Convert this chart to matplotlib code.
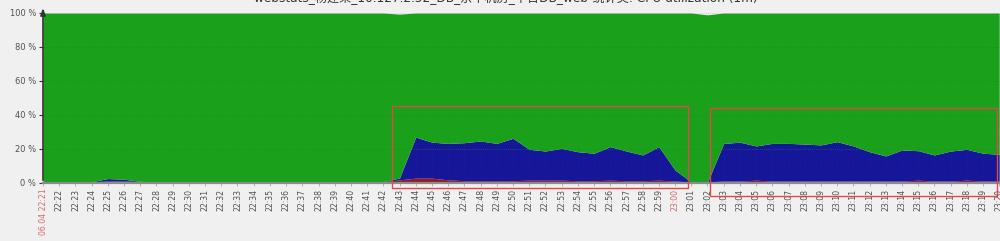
import matplotlib

matplotlib.use("Agg")
import matplotlib.pyplot as plt
from matplotlib.patches import Rectangle

plt.rcParams["font.family"] = ["DejaVu Sans", "Noto Sans CJK SC"]

# ---- data: one value per minute, 22:21 .. 23:20 -------------------------------
TIME_LABELS = ["06.04 22:21"] + [f"22:{m:02d}" for m in range(22, 60)] + [f"23:{m:02d}" for m in range(0, 21)]
TOTAL_BUSY = [0.5, 0.5, 0.5, 0.8, 2.6, 2.2, 1.0, 0.5, 0.5, 0.6,
              0.5, 0.5, 0.5, 0.5, 0.5, 0.5, 0.5, 0.5, 0.5, 0.5,
              0.5, 0.8, 3.0, 27.0, 24.0, 23.3, 23.7, 24.7, 23.3, 26.3,
              19.8, 18.8, 20.4, 18.4, 17.5, 21.4, 18.8, 16.5, 21.4, 7.6,
              0.6, 0.5, 23.3, 24.0, 21.8, 23.3, 23.3, 22.9, 22.4, 24.3,
              21.8, 18.4, 15.9, 19.4, 19.0, 16.5, 18.8, 19.8, 17.5, 16.9]
SYSTEM = [0.3, 0.3, 0.3, 0.4, 0.8, 0.8, 0.5, 0.3, 0.3, 0.6,
          0.6, 0.6, 0.6, 0.6, 0.6, 0.3, 0.3, 0.3, 0.3, 0.3,
          0.3, 0.4, 1.5, 2.5, 2.5, 1.5, 1.0, 1.0, 1.0, 1.0,
          1.3, 1.3, 1.3, 1.0, 1.0, 1.3, 1.0, 1.0, 1.3, 0.8,
          0.3, 0.3, 0.8, 0.8, 1.3, 0.8, 0.8, 0.8, 0.8, 0.8,
          0.8, 0.8, 0.8, 0.8, 1.3, 0.8, 0.8, 1.3, 0.8, 0.8]
OTHER = [0.35] * 60
IDLE_TOP = [100.0] * 22 + [99.3] + [100.0] * 18 + [98.9] + [100.0] * 18
Y_TICKS = [0, 20, 40, 60, 80, 100]
TITLE = "webstats_杨建荣_10.127.2.52_DB_京华机房_平台DB_web-统计类: CPU utilization (1m)"

GREEN = "#1aa01a"
BLUE = "#16169a"
RED = "#9b1818"
GREY = "#7d857d"
BG = "#f0f0f0"
INK = "#505050"
MARK = "#d06a6a"

minutes = list(range(len(TIME_LABELS)))
other_top = OTHER
sys_top = [o + s for o, s in zip(OTHER, SYSTEM)]

fig = plt.figure(figsize=(10, 2.41), dpi=100, facecolor=BG)
ax = fig.add_axes([0.043, 0.2407, 0.957, 0.7054])
ax.set_facecolor(BG)

ax.fill_between(minutes, 0, other_top, color=GREY, lw=0, zorder=2)
ax.fill_between(minutes, other_top, sys_top, color=RED, lw=0, zorder=2)
ax.fill_between(minutes, sys_top, TOTAL_BUSY, color=BLUE, lw=0, zorder=2)
ax.fill_between(minutes, TOTAL_BUSY, IDLE_TOP, color=GREEN, lw=0, zorder=2)

# faint dotted grid over the areas
for y in Y_TICKS[1:]:
    ax.axhline(y, color="#168d16" if y < 100 else "#b0b0b0", lw=0.5, ls=(0, (1, 2)), zorder=3)
for m in minutes:
    ax.axvline(m, color="#178f17", lw=0.4, ls=(0, (1, 3)), zorder=3, alpha=0.35)

ax.set_xlim(0, 59.05)
ax.set_ylim(0, 100)
for side in ("top", "right", "left"):
    ax.spines[side].set_visible(False)
ax.spines["bottom"].set_color("#8c8c8c")
ax.spines["bottom"].set_linewidth(1.6)
ax.spines["bottom"].set_zorder(4)

# y axis with arrow
ax.annotate("", xy=(0, 104.5), xytext=(0, 0), xycoords="data",
            arrowprops=dict(arrowstyle="-|>,head_width=0.15,head_length=0.4", color="#333333", lw=1.2),
            annotation_clip=False, zorder=5)

ax.set_yticks(Y_TICKS)
ax.set_yticklabels([f"{v} %" for v in Y_TICKS])
ax.tick_params(axis="y", length=3, width=0.8, colors="#333333", labelsize=6, labelcolor=INK, pad=2)
ax.set_xticks(minutes)
ax.set_xticklabels(TIME_LABELS, rotation=90, fontsize=5.6, color=INK)
ax.tick_params(axis="x", length=2, width=0.5, colors="#999999", labelcolor=INK, pad=2)
for lab in ax.get_xticklabels():
    if lab.get_text() in ("06.04 22:21", "23:00"):
        lab.set_color(MARK)

fig.text(0.506, 0.99, TITLE, ha="center", va="baseline", fontsize=8.7, color="#333333",
         family=["DejaVu Sans", "Noto Sans CJK SC"])

# red highlight boxes (screenshot annotations), in figure pixels
W, H = 1000, 241
for x0, y0, x1, y1 in [(392, 106, 688, 188), (710, 108, 997, 196)]:
    fig.patches.append(Rectangle((x0 / W, 1 - y1 / H), (x1 - x0) / W, (y1 - y0) / H,
                                 transform=fig.transFigure, fill=False,
                                 edgecolor="#e04848", lw=1.0, zorder=10))

fig.savefig("out.png", dpi=100, facecolor=BG)
